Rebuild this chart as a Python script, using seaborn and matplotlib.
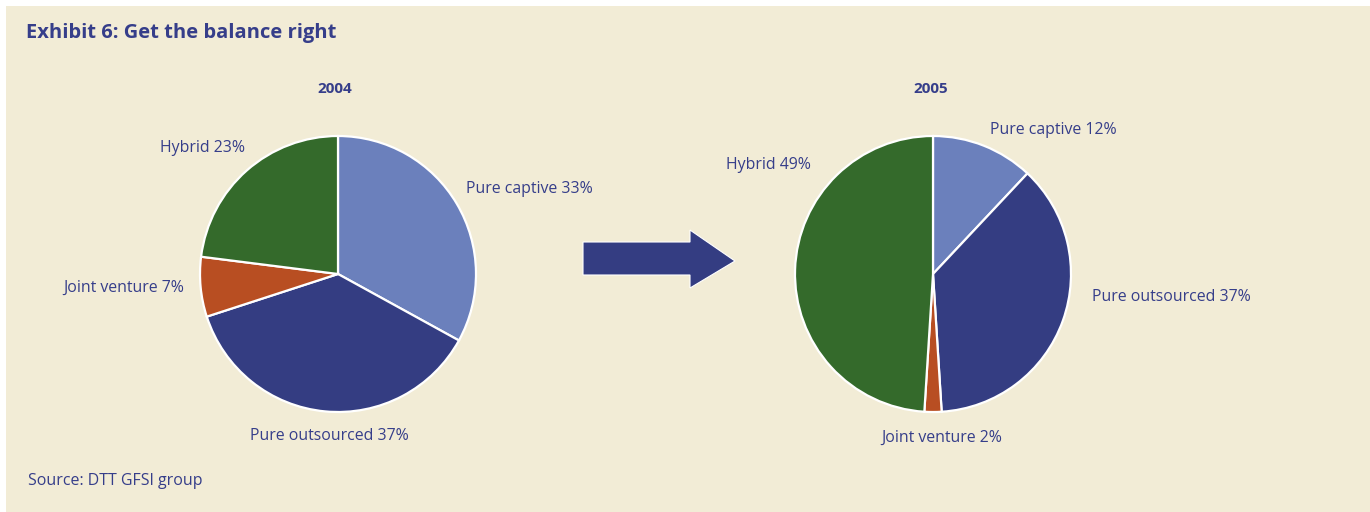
import matplotlib
matplotlib.use("Agg")
import matplotlib.pyplot as plt
from matplotlib.patches import Polygon, Rectangle
import seaborn as sns

# ---- data ----
categories = ["Pure captive", "Pure outsourced", "Joint venture", "Hybrid"]
values_2004 = [33, 37, 7, 23]
values_2005 = [12, 37, 2, 49]
years = ["2004", "2005"]
title = "Exhibit 6: Get the balance right"
source = "Source: DTT GFSI group"

colors = ["#6B80BC", "#343D82", "#B84E22", "#346A2B"]
bg = "#F2ECD6"
txt = "#363E8A"

sns.set_theme(style="white")
plt.rcParams["font.family"] = ["Open Sans", "DejaVu Sans"]

W, H = 1370, 512
fig = plt.figure(figsize=(W / 100, H / 100), dpi=100, facecolor="white")


def fx(x):
    return x / W


def fy(y):
    return 1 - y / H


# beige panel
fig.patches.append(Rectangle((fx(6), 0), 1 - fx(6), fy(6), transform=fig.transFigure,
                             facecolor=bg, edgecolor="none", zorder=-5))

R = 138.0  # pixel radius
AX = 320.0


def pie_axes(cx, cy):
    ax = fig.add_axes([fx(cx - AX / 2), fy(cy + AX / 2), AX / W, AX / H])
    ax.set_facecolor("none")
    ax.set_zorder(1)
    return ax


label_pos = {
    "2004": [(466, 189, "left"), (250, 436, "left"), (63, 288, "left"), (160, 148, "left")],
    "2005": [(990, 130, "left"), (1092, 297, "left"), (881, 438, "left"), (726, 165, "left")],
}
centers = {"2004": (338, 274), "2005": (933, 274)}
year_pos = {"2004": (335, 89), "2005": (931, 89)}

for yr, vals in zip(years, [values_2004, values_2005]):
    cx, cy = centers[yr]
    ax = pie_axes(cx, cy)
    ax.pie(vals, colors=colors, startangle=90, counterclock=False, radius=1.0,
           wedgeprops=dict(edgecolor="white", linewidth=1.6))
    lim = AX / 2 / R
    ax.set_xlim(-lim, lim)
    ax.set_ylim(-lim, lim)
    ax.set_aspect("equal")
    ax.axis("off")
    for cat, v, (x, y, ha) in zip(categories, vals, label_pos[yr]):
        fig.text(fx(x), fy(y), f"{cat} {v}%", ha=ha, va="center", color=txt, fontsize=11.4)
    fig.text(fx(year_pos[yr][0]), fy(year_pos[yr][1]), yr, ha="center", va="center",
             color=txt, fontsize=11, fontweight="bold")

# arrow
arrow_pts = [(583, 242), (690, 242), (690, 230), (735, 261), (690, 288), (690, 275), (583, 275)]
fig.patches.append(Polygon([(fx(x), fy(y)) for x, y in arrow_pts], closed=True,
                           transform=fig.transFigure, facecolor="#343D82",
                           edgecolor="white", linewidth=0.8, zorder=2))

fig.text(fx(26), fy(33), title, ha="left", va="center", color=txt, fontsize=14.5,
         fontweight="bold")
fig.text(fx(28), fy(481), source, ha="left", va="center", color=txt, fontsize=11.5)

fig.savefig("out.png", dpi=100, facecolor="white")
